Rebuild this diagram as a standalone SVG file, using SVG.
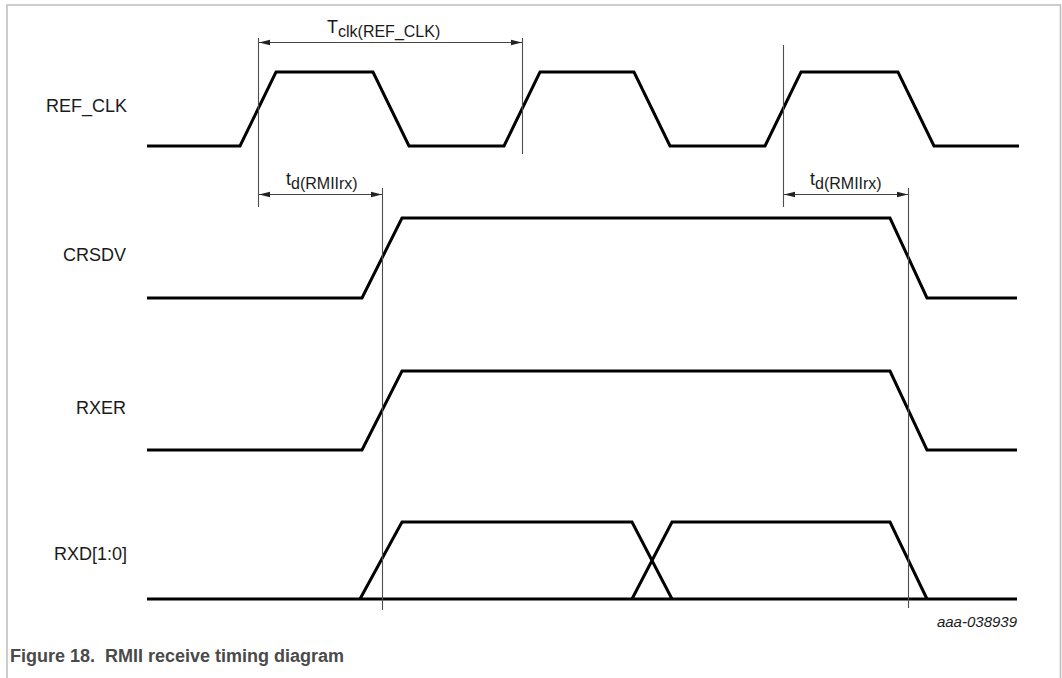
<svg xmlns="http://www.w3.org/2000/svg" width="1062" height="678" viewBox="0 0 1062 678">
<style>
.frame{fill:none;stroke:#bdbdbd;stroke-width:1.5}
.wave{fill:none;stroke:#000;stroke-width:3;stroke-linejoin:miter;stroke-linecap:butt}
.ref{fill:none;stroke:#4d4d4d;stroke-width:1.1}
.dim{fill:none;stroke:#444;stroke-width:1}
.lbl{font-family:"Liberation Sans",Arial,sans-serif;font-size:18px;fill:#1a1a1a}
.sub{font-size:16px}
.id{font-family:"Liberation Sans",Arial,sans-serif;font-size:15px;font-style:italic;fill:#1a1a1a}
.cap{font-family:"Liberation Sans",Arial,sans-serif;font-size:18px;font-weight:bold;fill:#4a4a4a}
</style>
<defs>
<marker id="ah" markerUnits="userSpaceOnUse" markerWidth="12" markerHeight="8" refX="11" refY="4" orient="auto-start-reverse">
<path d="M0,1.2 L11,4 L0,6.8 Z" fill="#222"/>
</marker>
</defs>
<rect width="1062" height="678" fill="#fff"/>
<path class="frame" d="M7,678 V5 H1060.5 V678"/>

<g id="labels">
<text class="lbl" x="127" y="112" text-anchor="end">REF_CLK</text>
<text class="lbl" x="126" y="261" text-anchor="end">CRSDV</text>
<text class="lbl" x="126" y="414" text-anchor="end">RXER</text>
<text class="lbl" x="127" y="560" text-anchor="end">RXD[1:0]</text>
</g>

<g id="REF_CLK">
<polyline class="wave" points="147,146 240,146 276,72 373,72 409,146 504,146 540,72 634,72 670,146 765,146 801,72 898,72 934,146 1019,146"/>
</g>
<g id="CRSDV">
<polyline class="wave" points="147,298 362,298 402,218 890,218 927,298 1017,298"/>
</g>
<g id="RXER">
<polyline class="wave" points="147,450 362,450 402,371 890,371 927,450 1017,450"/>
</g>
<g id="RXD">
<line class="wave" x1="147" y1="599" x2="1017" y2="599"/>
<polyline class="wave" points="360,599 402,522 632,522 672,599"/>
<polyline class="wave" points="632,599 672,522 890,522 927,599"/>
</g>

<g id="connectors">
<line class="ref" x1="258.5" y1="38" x2="258.5" y2="207"/>
<line class="ref" x1="522.5" y1="38" x2="522.5" y2="154"/>
<line class="ref" x1="783.5" y1="45" x2="783.5" y2="207"/>
<line class="ref" x1="382.5" y1="188" x2="382.5" y2="610"/>
<line class="ref" x1="908.5" y1="188" x2="908.5" y2="608"/>
<line class="dim" x1="259" y1="42.5" x2="522" y2="42.5" marker-start="url(#ah)" marker-end="url(#ah)"/>
<line class="dim" x1="259" y1="194.5" x2="382" y2="194.5" marker-start="url(#ah)" marker-end="url(#ah)"/>
<line class="dim" x1="784" y1="194.5" x2="908" y2="194.5" marker-start="url(#ah)" marker-end="url(#ah)"/>
</g>

<g id="dim-labels">
<text class="lbl" x="327" y="33">T<tspan class="sub" dy="4">clk(REF_CLK)</tspan></text>
<text class="lbl" x="286" y="185">t<tspan class="sub" dy="4">d(RMIIrx)</tspan></text>
<text class="lbl" x="810" y="185">t<tspan class="sub" dy="4">d(RMIIrx)</tspan></text>
</g>

<text class="id" x="1017" y="627" text-anchor="end">aaa-038939</text>
<text class="cap" x="10" y="662">Figure 18.&#160; RMII receive timing diagram</text>
</svg>
